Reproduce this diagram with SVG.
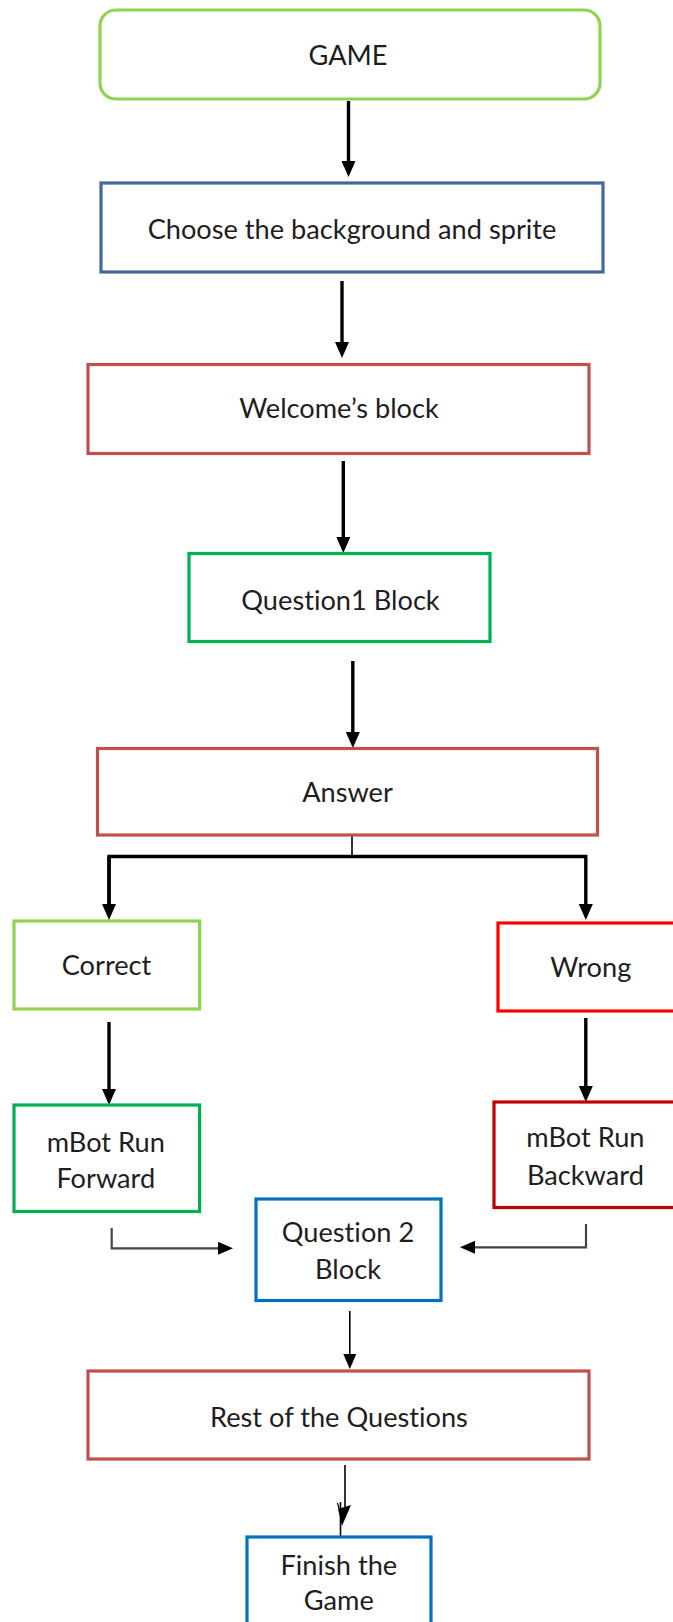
<svg xmlns="http://www.w3.org/2000/svg" width="673" height="1622" viewBox="0 0 673 1622">
<style>
.box{fill:#ffffff;stroke-width:3.2}
.t{font-family:Lato,"Open Sans","Liberation Sans",sans-serif;font-size:27.2px;fill:#1e1e1e;text-anchor:middle;font-variant-ligatures:none;font-feature-settings:"liga" 0,"clig" 0}
.thick{stroke:#000;stroke-width:3.4;fill:none}
.thin{stroke:#000;stroke-width:1.6;fill:none}
.elbow{stroke:#444;stroke-width:2.2;fill:none}
.lg{stroke:#92D050}.dg{stroke:#00B050}.db{stroke:#41699B}.rd{stroke:#C0504D}.br{stroke:#FF0000}.dr{stroke:#C00000}.bl{stroke:#0070C0}
</style>
<defs>
<marker id="ah" markerUnits="userSpaceOnUse" markerWidth="16" markerHeight="14" refX="3" refY="7" orient="auto"><path d="M0,0 L16,7 L0,14 z" fill="#000"/></marker>
<marker id="ahs" markerUnits="userSpaceOnUse" markerWidth="15" markerHeight="13" refX="3" refY="6.5" orient="auto"><path d="M0,0 L15,6.5 L0,13 z" fill="#000"/></marker>
</defs>
<rect width="673" height="1622" fill="#ffffff"/>
<g id="connectors">
<line class="thick" x1="348.5" y1="101" x2="348.5" y2="164" marker-end="url(#ah)"/>
<line class="thick" x1="342" y1="281" x2="342" y2="345" marker-end="url(#ah)"/>
<line class="thick" x1="343.3" y1="461" x2="343.3" y2="540" marker-end="url(#ah)"/>
<line class="thick" x1="352.8" y1="661" x2="352.8" y2="735" marker-end="url(#ah)"/>
<line class="thin" x1="352" y1="835" x2="352" y2="856"/>
<path class="thick" d="M109,907 V856.5 H585.8 V907" marker-end="url(#ah)"/>
<line class="thick" x1="109" y1="856.5" x2="109" y2="907" marker-end="url(#ah)"/>
<line class="thick" x1="109" y1="1022" x2="109" y2="1092" marker-end="url(#ah)"/>
<line class="thick" x1="585.8" y1="1018" x2="585.8" y2="1089" marker-end="url(#ah)"/>
<path class="elbow" d="M111.7,1228 V1248.3 H221" marker-end="url(#ahs)"/>
<path class="elbow" d="M586,1224 V1247.3 H472" marker-end="url(#ahs)"/>
<line class="thin" x1="349.8" y1="1311" x2="349.8" y2="1357" marker-end="url(#ahs)"/>
<line class="thin" x1="345" y1="1465" x2="345" y2="1510"/>
<polygon points="338,1509 351,1505 342,1526" fill="#000"/>
<path d="M337.5,1503 L339.5,1510" stroke="#000" stroke-width="1.2" fill="none"/>
<line class="thin" x1="340.5" y1="1502" x2="340.5" y2="1537"/>
</g>
<g id="game"><rect class="box lg" x="100" y="10" width="500" height="89" rx="16"/><text class="t" x="348" y="65">GAME</text></g>
<g id="choose"><rect class="box db" x="101" y="183" width="502" height="89"/><text class="t" x="352" y="239">Choose the background and sprite</text></g>
<g id="welcome"><rect class="box rd" x="88" y="364.5" width="501" height="89"/><text class="t" x="339" y="418">Welcome’s block</text></g>
<g id="question1"><rect class="box dg" x="189" y="553.5" width="301" height="88"/><text class="t" x="340.5" y="610">Question1 Block</text></g>
<g id="answer"><rect class="box rd" x="97.5" y="748.5" width="500" height="86.5"/><text class="t" x="347.5" y="801.5">Answer</text></g>
<g id="correct"><rect class="box lg" x="14" y="921" width="185.6" height="88"/><text class="t" x="106.5" y="975">Correct</text></g>
<g id="wrong"><rect class="box br" x="498" y="923" width="190" height="88"/><text class="t" x="590.8" y="976.5">Wrong</text></g>
<g id="forward"><rect class="box dg" x="14" y="1105" width="185.6" height="106.5"/><text class="t" x="105.8" y="1151.5">mBot Run</text><text class="t" x="105.8" y="1188.3">Forward</text></g>
<g id="backward"><rect class="box dr" x="494" y="1102" width="194" height="105.5"/><text class="t" x="585.4" y="1146.7">mBot Run</text><text class="t" x="585.4" y="1185">Backward</text></g>
<g id="question2"><rect class="box bl" x="256" y="1199" width="185" height="101.5"/><text class="t" x="348" y="1241.7">Question 2</text><text class="t" x="348" y="1279">Block</text></g>
<g id="rest"><rect class="box rd" x="88" y="1371" width="501" height="88"/><text class="t" x="339" y="1426.7">Rest of the Questions</text></g>
<g id="finish"><rect class="box bl" x="247" y="1537" width="184" height="110"/><text class="t" x="338.8" y="1575">Finish the</text><text class="t" x="338.8" y="1610">Game</text></g>
</svg>
